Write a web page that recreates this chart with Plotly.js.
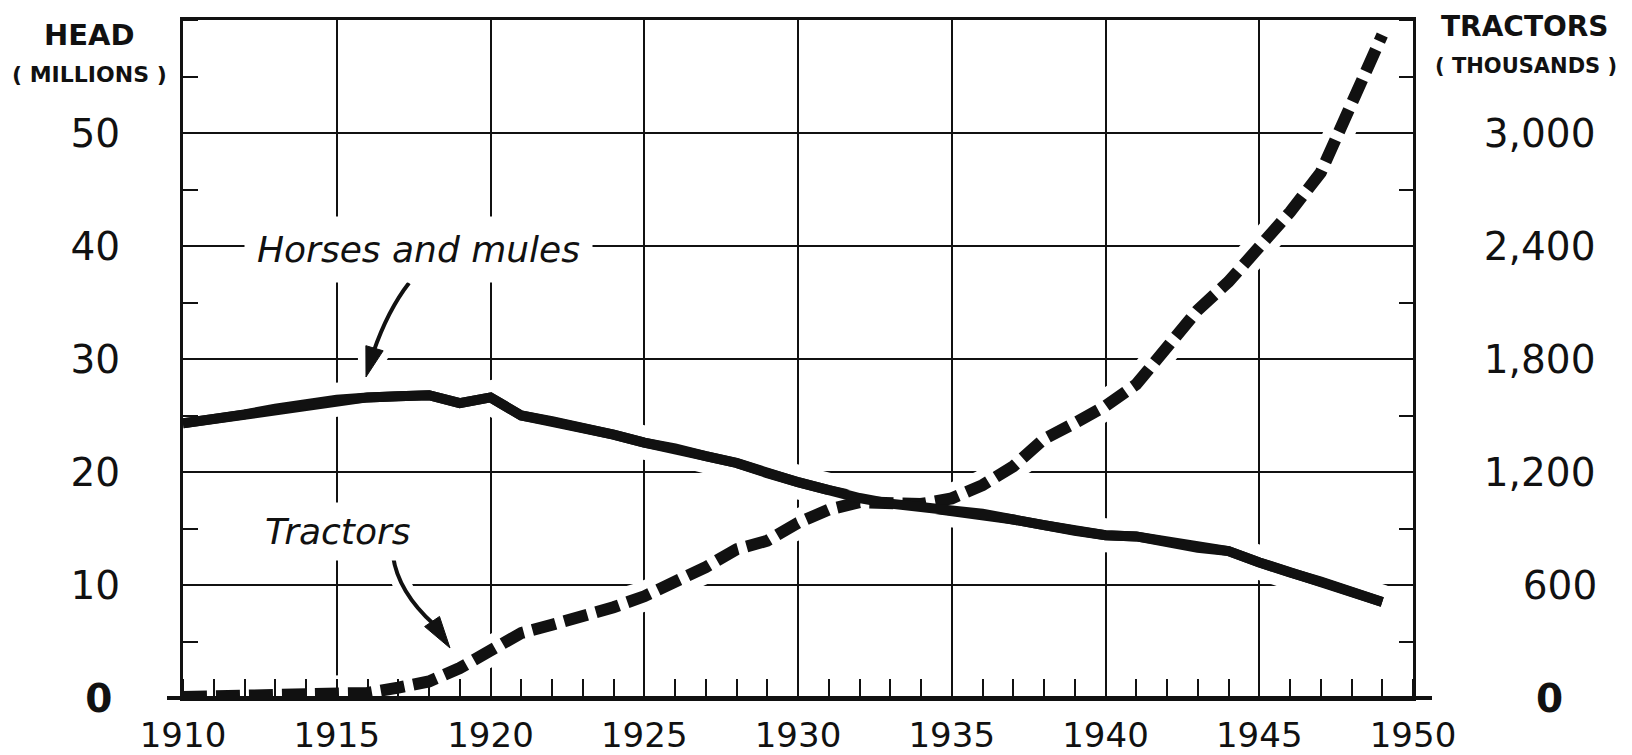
<!DOCTYPE html>
<html>
<head>
<meta charset="utf-8">
<script src="https://cdn.plot.ly/plotly-3.0.1.min.js"></script>
<style>
html,body{margin:0;padding:0;background:#ffffff;}
#chart{width:1632px;height:755px;}
</style>
</head>
<body>
<div id="chart"></div>
<script>
// ---------------- DATA ----------------
const years = [1910,1911,1912,1913,1914,1915,1916,1917,1918,1919,
               1920,1921,1922,1923,1924,1925,1926,1927,1928,1929,
               1930,1931,1932,1933,1934,1935,1936,1937,1938,1939,
               1940,1941,1942,1943,1944,1945,1946,1947,1948,1949];
// Horses and mules on farms, millions of head
const horsesMules = [24.3,24.7,25.1,25.6,26.0,26.4,26.6,26.7,26.8,26.1,
                     26.6,25.0,24.5,23.9,23.3,22.6,22.1,21.4,20.8,19.9,
                     19.1,18.4,17.7,17.2,16.9,16.6,16.3,15.8,15.3,14.8,
                     14.4,14.3,13.8,13.3,13.0,12.0,11.1,10.3,9.4,8.5];
// Tractors on farms, thousands
const tractors = [5,8,11,14,17,20,27,55,88,159,
                  248,345,389,430,482,540,612,695,790,835,
                  930,1000,1040,1035,1030,1060,1130,1230,1375,1460,
                  1550,1665,1865,2060,2210,2395,2580,2790,3140,3520];

const xTickVals = [1910,1915,1920,1925,1930,1935,1940,1945,1950];
const xTickText = ['1910','1915','1920','1925','1930','1935','1940','1945','1950'];
const leftTickVals = [0,10,20,30,40,50];
const leftTickText = ['<b>0</b>\u2009','10','20','30','40','50'];
const rightTickVals = [0,600,1200,1800,2400,3000];
const rightTickText = ['\u2007\u2002\u2009<b>0</b>','\u2003600','1,200','1,800','2,400','3,000'];

const seriesNames = ['Horses and mules','Tractors'];

// ---------------- GEOMETRY ----------------
const W = 1632, H = 755, L = 183, R = 219, T = 20, B = 57;
const plotW = W - L - R, plotH = H - T - B;
const XR = [1910, 1950], YR = [0, 60], Y2R = [0, 3600];
function px2x(px){ return XR[0] + (px - L) / plotW * (XR[1] - XR[0]); }
function py2y(py){ return YR[0] + (H - B - py) / plotH * (YR[1] - YR[0]); }
function px2paper(px){ return (px - L) / plotW; }
function py2paper(py){ return (H - B - py) / plotH; }

const INK = '#111111';
const FONT = 'DejaVu Sans, Liberation Sans, sans-serif';

function pathFrom(xs, ys){
  return xs.map((x, i) => (i ? 'L' : 'M') + x + ',' + ys[i]).join(' ');
}
function P(pt){ return px2x(pt[0]) + ',' + py2y(pt[1]); }

// arrow helper (pixel design, converted to data coordinates)
function arrowShapes(start, ctrl, tip, dir, len, half){
  const n = Math.hypot(dir[0], dir[1]);
  const d = [dir[0]/n, dir[1]/n];
  const nn = [d[1], -d[0]];
  const bc = [tip[0] - d[0]*len, tip[1] - d[1]*len];
  const b1 = [bc[0] + nn[0]*half, bc[1] + nn[1]*half];
  const b2 = [bc[0] - nn[0]*half, bc[1] - nn[1]*half];
  const shaft = 'M' + P(start) + ' Q' + P(ctrl) + ' ' + P([bc[0]+d[0]*4, bc[1]+d[1]*4]);
  const head = 'M' + P(tip) + ' L' + P(b1) + ' L' + P(bc) + ' L' + P(b2) + ' Z';
  const haloPath = 'M' + P(start) + ' Q' + P(ctrl) + ' ' + P(bc) + ' L' + P(tip);
  return {
    halo: [
      {type:'path', xref:'x', yref:'y', layer:'between', path: haloPath,
       line:{color:'#ffffff', width:18}},
      {type:'path', xref:'x', yref:'y', layer:'between', path: head,
       fillcolor:'#ffffff', line:{color:'#ffffff', width:16}}
    ],
    ink: [
      {type:'path', xref:'x', yref:'y', layer:'above', path: shaft,
       line:{color:INK, width:4}},
      {type:'path', xref:'x', yref:'y', layer:'above', path: head,
       fillcolor:INK, line:{color:INK, width:1}}
    ]
  };
}

// ---------------- TRACES ----------------
const traces = [
  {x: years, y: horsesMules, name: seriesNames[0], type:'scatter', mode:'lines',
   yaxis:'y', line:{color:INK, width:10, shape:'linear'}, hoverinfo:'skip'},
  // white halo that breaks the grid around the tractor curve
  {x: years, y: tractors, name: seriesNames[1] + ' halo', type:'scatter', mode:'lines',
   yaxis:'y2', line:{color:'#ffffff', width:30}, hoverinfo:'skip'},
  {x: years, y: tractors, name: seriesNames[1], type:'scatter', mode:'lines',
   yaxis:'y2', line:{color:INK, width:12, dash:'24px,9px'}, hoverinfo:'skip'}
];

// ---------------- SHAPES ----------------
const arrH = arrowShapes([409, 283], [388, 310], [366, 377], [-8, 27], 30, 9);
const arrT = arrowShapes([393, 556], [398, 592], [450, 648], [21, 31], 32, 9);
const shapes = [].concat(
  arrH.halo, arrT.halo,
  [
    // white halo that breaks the grid around the horse curve
    {type:'path', xref:'x', yref:'y', layer:'between', path: pathFrom(years, horsesMules),
     line:{color:'#ffffff', width:34}},
    // horse curve re-inked above the tractor halo
    {type:'path', xref:'x', yref:'y', layer:'above', path: pathFrom(years, horsesMules),
     line:{color:INK, width:10}},
    // heavy base line extending past the frame
    {type:'line', xref:'paper', yref:'paper', x0: px2paper(167), x1: px2paper(1432), y0:0, y1:0,
     layer:'above', line:{color:INK, width:4}}
  ],
  arrH.ink, arrT.ink
);

// ---------------- ANNOTATIONS ----------------
const annotations = [
  {xref:'paper', yref:'paper', x: px2paper(89), y: py2paper(35), text:'HEAD', showarrow:false,
   xanchor:'center', yanchor:'middle', font:{family:FONT, size:29, weight:'bold', color:INK}},
  {xref:'paper', yref:'paper', x: px2paper(89), y: py2paper(75), text:'( MILLIONS )', showarrow:false,
   xanchor:'center', yanchor:'middle', font:{family:FONT, size:22, weight:'bold', color:INK}},
  {xref:'paper', yref:'paper', x: px2paper(1525), y: py2paper(26), text:'TRACTORS', showarrow:false,
   xanchor:'center', yanchor:'middle', font:{family:FONT, size:28, weight:'bold', color:INK}},
  {xref:'paper', yref:'paper', x: px2paper(1526), y: py2paper(66), text:'( THOUSANDS )', showarrow:false,
   xanchor:'center', yanchor:'middle', font:{family:FONT, size:21, weight:'bold', color:INK}},
  {xref:'x', yref:'y', x: px2x(418), y: py2y(249), text: seriesNames[0], showarrow:false,
   xanchor:'center', yanchor:'middle', bgcolor:'#ffffff', borderpad:12,
   font:{family:FONT, size:36, style:'italic', color:INK}},
  {xref:'x', yref:'y', x: px2x(338), y: py2y(531), text: seriesNames[1], showarrow:false,
   xanchor:'center', yanchor:'middle', bgcolor:'#ffffff', borderpad:8,
   font:{family:FONT, size:36, style:'italic', color:INK}}
];

// ---------------- LAYOUT ----------------
const layout = {
  width: W, height: H,
  margin: {l: L, r: R, t: T, b: B, pad: 0},
  paper_bgcolor: '#ffffff', plot_bgcolor: '#ffffff',
  showlegend: false, hovermode: false,
  font: {family: FONT, color: INK},
  xaxis: {
    range: XR, tickmode:'array', tickvals: xTickVals, ticktext: xTickText,
    showgrid: true, gridcolor: INK, gridwidth: 2, zeroline: false,
    showline: true, linecolor: INK, linewidth: 3, mirror: true,
    ticks: '', ticklabelstandoff: 5,
    tickfont: {family: FONT, size: 34, color: INK},
    minor: {tick0: 1910, dtick: 1, ticks: 'inside', ticklen: 19, tickwidth: 2, tickcolor: INK, showgrid: false},
    fixedrange: true
  },
  yaxis: {
    range: YR, tickmode:'array', tickvals: leftTickVals, ticktext: leftTickText,
    showgrid: true, gridcolor: INK, gridwidth: 2, zeroline: false,
    showline: true, linecolor: INK, linewidth: 3, mirror: false,
    ticks: '', ticklabelstandoff: 52,
    tickfont: {family: FONT, size: 39, color: INK},
    minor: {tick0: 0, dtick: 5, ticks: 'inside', ticklen: 15, tickwidth: 2, tickcolor: INK, showgrid: false},
    fixedrange: true
  },
  yaxis2: {
    range: Y2R, overlaying: 'y', side: 'right', anchor: 'x',
    tickmode:'array', tickvals: rightTickVals, ticktext: rightTickText,
    showgrid: false, zeroline: false,
    showline: true, linecolor: INK, linewidth: 3,
    ticks: '', ticklabelstandoff: 60,
    tickfont: {family: FONT, size: 39, color: INK},
    minor: {tick0: 0, dtick: 300, ticks: 'inside', ticklen: 14, tickwidth: 2, tickcolor: INK, showgrid: false},
    fixedrange: true
  },
  shapes: shapes,
  annotations: annotations
};

Plotly.newPlot('chart', traces, layout, {displayModeBar: false, staticPlot: true});
</script>
</body>
</html>
